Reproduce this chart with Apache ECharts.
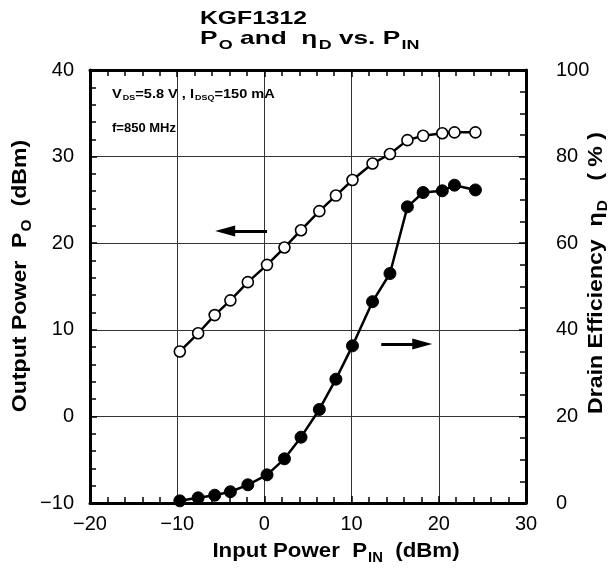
<!DOCTYPE html>
<html>
<head>
<meta charset="utf-8">
<script src="https://cdn.jsdelivr.net/npm/echarts@6/dist/echarts.min.js"></script>
<style>
html,body{margin:0;padding:0;background:#fff;}
#chart{width:611px;height:578px;}
</style>
</head>
<body>
<div id="chart"></div>
<script>
// Input power (dBm) for each measured point
const pinValues = [-9.7, -7.6, -5.7, -3.9, -1.9, 0.3, 2.3, 4.2, 6.3, 8.2, 10.1, 12.4, 14.4, 16.4, 18.2, 20.4, 21.8, 24.2];
// Output power Po (dBm)
const poValues = [7.5, 9.6, 11.7, 13.4, 15.5, 17.5, 19.5, 21.5, 23.7, 25.5, 27.3, 29.2, 30.3, 31.9, 32.4, 32.7, 32.8, 32.8];
// Drain efficiency (%)
const etaValues = [0.5, 1.2, 1.8, 2.6, 4.2, 6.5, 10.2, 15.2, 21.6, 28.6, 36.3, 46.5, 53.0, 68.4, 71.7, 72.1, 73.4, 72.3];
// Axis ranges / ticks
const xTicks = [-20, -10, 0, 10, 20, 30];
const yLeftTicks = [-10, 0, 10, 20, 30, 40];
const yRightTicks = [0, 20, 40, 60, 80, 100];
// Arrow annotations (data coordinates)
const poArrow = [[0.3, 21.4], [-4.5, 21.4]];
const etaArrow = [[13.4, 36.7], [18.1, 36.7]];

const poData = pinValues.map((x, i) => [x, poValues[i]]);
const etaData = pinValues.map((x, i) => [x, etaValues[i]]);

const FONT = '"Liberation Sans", Arial, sans-serif';
const black = '#000';

function axisCommon(extra) {
  return Object.assign({
    type: 'value',
    axisLine: { show: true, onZero: false, lineStyle: { color: black, width: 3 } },
    axisTick: { show: true, inside: true, length: 7, lineStyle: { color: black, width: 1.5 } },
    minorTick: { show: true, length: 6, lineStyle: { color: black, width: 1.5 } },
    splitLine: { show: false },
    minorSplitLine: { show: false },
    axisLabel: { color: black, fontFamily: FONT, fontSize: 20 }
  }, extra);
}

function richSub(bigSize, smallSize, drop) {
  return {
    b: { font: 'bold ' + bigSize + 'px ' + FONT, fill: black, verticalAlign: 'bottom', padding: [0, 0, drop, 0] },
    s: { font: 'bold ' + smallSize + 'px ' + FONT, fill: black, verticalAlign: 'bottom', padding: [0, 0, 0, 1] }
  };
}

const chart = echarts.init(document.getElementById('chart'), null, { renderer: 'canvas' });

const arrowMark = (coords) => ({
  silent: true, animation: false,
  symbol: ['none', 'triangle'], symbolSize: [11, 20],
  label: { show: false },
  lineStyle: { color: black, width: 3, type: 'solid' },
  itemStyle: { color: black },
  emphasis: { disabled: true },
  data: [[{ coord: coords[0] }, { coord: coords[1] }]]
});

const option = {
  animation: false,
  backgroundColor: '#fff',
  grid: { left: 90, right: 85, top: 70, bottom: 75, containLabel: false },
  xAxis: [
    axisCommon({
      position: 'bottom', min: xTicks[0], max: xTicks[xTicks.length - 1], interval: 10,
      minorTick: { show: true, splitNumber: 5, length: 6, lineStyle: { color: black, width: 1.5 } },
      splitLine: { show: true, lineStyle: { color: '#333', width: 1 } },
      axisLabel: { color: black, fontFamily: FONT, fontSize: 20, margin: 11,
        formatter: v => (v < 0 ? '\u2212' + Math.abs(v) : String(v)) }
    }),
    axisCommon({
      position: 'top', min: xTicks[0], max: xTicks[xTicks.length - 1], interval: 10,
      minorTick: { show: true, splitNumber: 5, length: 6, lineStyle: { color: black, width: 1.5 } },
      axisLabel: { show: false }
    })
  ],
  yAxis: [
    axisCommon({
      position: 'left', min: yLeftTicks[0], max: yLeftTicks[yLeftTicks.length - 1], interval: 10,
      minorTick: { show: true, splitNumber: 5, length: 6, lineStyle: { color: black, width: 1.5 } },
      splitLine: { show: true, lineStyle: { color: '#333', width: 1 } },
      axisLabel: { color: black, fontFamily: FONT, fontSize: 20, margin: 16,
        formatter: v => (v < 0 ? '\u2212' + Math.abs(v) : String(v)) }
    }),
    axisCommon({
      position: 'right', min: yRightTicks[0], max: yRightTicks[yRightTicks.length - 1], interval: 20,
      minorTick: { show: true, splitNumber: 4, length: 6, lineStyle: { color: black, width: 1.5 } },
      axisLabel: { color: black, fontFamily: FONT, fontSize: 20, margin: 30 }
    })
  ],
  series: [
    {
      name: 'Po', type: 'line', xAxisIndex: 0, yAxisIndex: 0, data: poData,
      symbol: 'circle', symbolSize: 11, z: 5,
      lineStyle: { color: black, width: 2.5 },
      itemStyle: { color: '#fff', borderColor: black, borderWidth: 1.6 },
      emphasis: { disabled: true },
      markLine: arrowMark(poArrow)
    },
    {
      name: 'eta', type: 'line', xAxisIndex: 0, yAxisIndex: 1, data: etaData,
      symbol: 'circle', symbolSize: 12, z: 5,
      lineStyle: { color: black, width: 2.5 },
      itemStyle: { color: black, borderColor: black, borderWidth: 1 },
      emphasis: { disabled: true },
      markLine: arrowMark(etaArrow)
    }
  ],
  graphic: [
    { type: 'text', left: 200, top: 9, scaleX: 1.3, style: { text: 'KGF1312', font: 'bold 19px ' + FONT, fill: black } },
    { type: 'text', left: 200, top: 29, scaleX: 1.38, style: {
      text: '{b|P}{s|O}{b| and  }{b|η}{s|D}{b| vs. P}{s|IN}',
      rich: richSub(19, 13, 4)
    } },
    { type: 'text', x: 112, y: 95, scaleX: 1.12, style: {
      text: '{b|V}{s|DS}{b|=5.8 V , I}{s|DSQ}{b|=150 mA}',
      verticalAlign: 'middle',
      rich: richSub(13, 8, 1)
    } },
    { type: 'text', x: 112, y: 128, style: { text: 'f=850 MHz', font: 'bold 13px ' + FONT, fill: black, verticalAlign: 'middle' } },
    { type: 'text', x: 336, y: 553, scaleX: 1.06, style: {
      text: '{b|Input Power  P}{s|IN}{b|  (dBm)}', align: 'center', verticalAlign: 'middle',
      rich: richSub(21, 14, 3)
    } },
    { type: 'text', x: 22, y: 276, rotation: Math.PI / 2, scaleX: 1.1, style: {
      text: '{b|Output Power  P}{s|O}{b|  (dBm)}', align: 'center', verticalAlign: 'middle',
      rich: richSub(21, 14, 3)
    } },
    { type: 'text', x: 598, y: 273, rotation: Math.PI / 2, scaleX: 1.1, style: {
      text: '{b|Drain Efficiency  η}{s|D}{b|   ( % )}', align: 'center', verticalAlign: 'middle',
      rich: richSub(21, 14, 3)
    } }
  ]
};
chart.setOption(option);
</script>
</body>
</html>
